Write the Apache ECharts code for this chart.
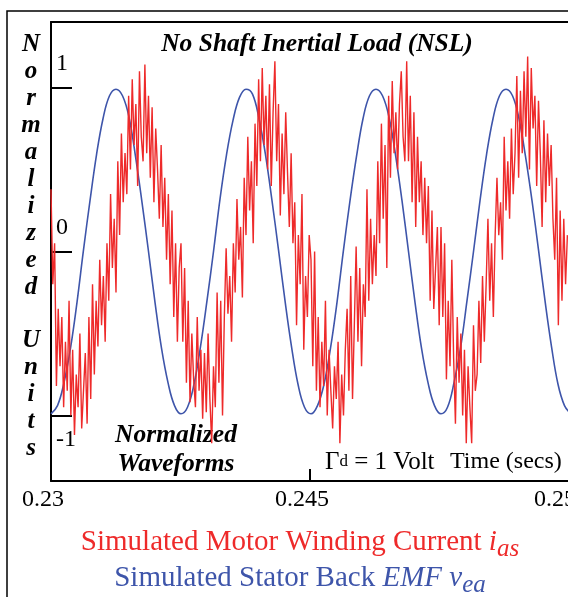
<!DOCTYPE html>
<html>
<head>
<meta charset="utf-8">
<title>Normalized Waveforms</title>
<script src="https://cdn.jsdelivr.net/npm/echarts@6.0.0/dist/echarts.min.js"></script>
<style>
  html, body { margin: 0; padding: 0; background: #fff; }
  #chart { width: 568px; height: 597px; }
</style>
</head>
<body>
<div id="chart"></div>
<script>
// axis ranges and tick labels
const timeMin = 0.23;
const timeMax = 0.26;
const timeTicks = [0.245];
const xTickLabels = ['0.23', '0.245', '0.255'];
const yTicks = [-1, 0, 1];

// stator back EMF v_ea (blue), sampled every emfStep seconds
const emfStart = 0.23;
const emfStep = 0.00037718;
const emfValues = [
  -0.99, -0.94, -0.80, -0.59, -0.31, 0.01, 0.31, 0.59, 0.81, 0.95, 0.99, 0.95, 0.82, 0.58, 0.30, 0.00, -0.31, -0.59, -0.80, -0.94,
  -0.99, -0.95, -0.81, -0.58, -0.30, 0.00, 0.32, 0.59, 0.80, 0.94, 0.99, 0.96, 0.81, 0.59, 0.31, 0.01, -0.30, -0.58, -0.81, -0.95,
  -0.99, -0.94, -0.81, -0.59, -0.31, 0.01, 0.31, 0.58, 0.81, 0.95, 0.99, 0.95, 0.82, 0.59, 0.31, 0.00, -0.31, -0.59, -0.80, -0.94,
  -0.99, -0.95, -0.80, -0.59, -0.30, 0.00, 0.31, 0.59, 0.81, 0.95, 0.99, 0.95, 0.81, 0.58, 0.31, 0.01, -0.30, -0.58, -0.81, -0.94,
  -0.99
];

// motor winding current i_as (red), sampled every currentStep seconds
const currentStart = 0.23;
const currentStep = 0.00010477;
const currentValues = [
  // cycle 1
  0.38, -0.20, 0.05, -0.82,
  -0.35, -0.70, -0.40, -0.95, -0.55, -0.85, -0.30, -1.00,
  -0.60, -1.12, -0.75, -0.95, -0.50, -1.08, -0.85, -0.62,
  -1.05, -0.40, -0.90, -0.20, -0.75,
  -0.30, -0.58, -0.05, -0.45, -0.15, -0.55,
  0.05, -0.30, 0.35, -0.10, 0.20, -0.25,
  0.55, 0.10, 0.72, 0.30, 0.60,
  0.35, 0.95, 0.50, 1.05, 0.65, 0.90,
  0.40, 1.10, 0.70, 0.55, 1.14, 0.60, 0.95, 0.45,
  0.88, 0.30, 0.75, 0.50, 0.20, 0.65, 0.15,
  0.45, -0.05, 0.35, -0.20, 0.25, -0.40, 0.05, -0.55, -0.10,
  // cycle 2
  0.05, -0.55, -0.10, -0.80,
  -0.30, -0.92, -0.50, -0.78, -0.95, -0.40, -0.85, -0.60,
  -1.02, -0.62, -0.98, -0.50, -0.90, -1.17, -0.70, -0.95,
  -0.25, -0.80, -0.30, -1.00, -0.40,
  0.02, -0.38, -0.15, -0.55, 0.05, -0.25,
  0.32, -0.05, 0.15, -0.28, 0.45, 0.10,
  0.70, 0.25, 0.55, 0.05, 0.78,
  0.40, 1.05, 0.55, 1.12, 0.65, 0.95,
  0.50, 1.02, 0.40, 0.85, 1.16, 0.55, 0.90, 0.22,
  0.72, 0.35, 0.85, 0.48, 0.15, 0.60, 0.05,
  0.30, -0.45, 0.10, -0.20, 0.35, -0.60, -0.15, -0.40, 0.10,
  // cycle 3
  -0.05, -0.70, 0.00, -0.85,
  -0.40, -0.95, -0.55, -0.82, -0.30, -1.00, -0.60, -0.85,
  -1.08, -0.70, -0.90, -0.55, -1.17, -0.75, -1.00, -0.60,
  -0.35, -0.85, -0.15, -0.90, -0.45,
  0.03, -0.55, -0.10, -0.70, -0.20, -0.40,
  0.38, -0.30, 0.20, -0.20, 0.10, -0.15,
  0.55, 0.05, 0.78, 0.20, 0.65,
  -0.10, 0.95, 0.45, 1.04, 0.60, 0.85,
  0.50, 0.90, 1.10, 0.70, 0.55, 1.16, 0.55, 0.95,
  0.30, 0.85, 0.15, 0.70, 0.30, 0.55, 0.10,
  0.45, 0.05, 0.40, -0.30, 0.25, -0.35, -0.10, 0.15, -0.45,
  // cycle 4
  0.15, -0.40, 0.05, -0.78,
  -0.30, -0.70, -0.05, -0.65, -1.05, -0.40, -0.80, -0.50,
  -1.00, -0.60, -1.17, -0.70, -0.95, -1.17, -0.45, -0.85,
  -0.75, -0.30, -0.68, -0.15, -0.55,
  -0.20, 0.20, -0.30, 0.05, -0.40, 0.10,
  0.45, 0.10, 0.30, -0.05, 0.70, 0.25,
  0.55, 0.20, 0.75, 0.35, 0.60,
  1.07, 0.45, 0.98, 0.60, 1.10, 0.70,
  1.19, 0.50, 1.12, 0.75, 0.95, 0.40, 0.92, 0.60,
  0.15, 0.80, 0.30, 0.72, 0.40, 0.65, 0.20,
  -0.05, 0.45, -0.45, 0.25, -0.30, 0.20, -0.20, 0.10
];

const red = '#ee2a2a';
const blue = '#3e55aa';
const serif = '"Liberation Serif", "DejaVu Serif", serif';

const chart = echarts.init(document.getElementById('chart'), null, { renderer: 'canvas' });

const emfData = emfValues.map((v, i) => [emfStart + i * emfStep, v]);
const currentData = currentValues.map((v, i) => [currentStart + i * currentStep, v]);

const yTitle = 'Normalized Units'.split('').map(c => (c === ' ' ? '' : c)).join('\n');

chart.setOption({
  animation: false,
  backgroundColor: '#fff',
  grid: [
    { left: 51, right: 0, top: 22, bottom: 116, outerBoundsMode: 'none' },
    { left: 43, right: 7, top: 22, bottom: 116, outerBoundsMode: 'none' }
  ],
  xAxis: [
    {
      type: 'value', gridIndex: 0, min: timeMin, max: timeMax,
      axisLine: { onZero: false, lineStyle: { color: '#000', width: 2 } },
      axisTick: { show: true, inside: true, length: 12, customValues: timeTicks, lineStyle: { color: '#000', width: 2 } },
      axisLabel: { show: false },
      splitLine: { show: false }
    },
    {
      type: 'value', gridIndex: 0, position: 'top', min: timeMin, max: timeMax,
      axisLine: { onZero: false, lineStyle: { color: '#000', width: 2 } },
      axisTick: { show: false }, axisLabel: { show: false }, splitLine: { show: false }
    },
    {
      type: 'category', gridIndex: 1, data: xTickLabels, boundaryGap: false,
      axisLine: { show: false }, axisTick: { show: false },
      axisLabel: { color: '#000', fontFamily: serif, fontSize: 24, margin: 7, interval: 0 }
    }
  ],
  yAxis: [
    {
      type: 'value', gridIndex: 0, min: -1.4, max: 1.4,
      axisLine: { show: true, lineStyle: { color: '#000', width: 2 } },
      axisTick: { show: true, inside: true, length: 21, customValues: yTicks, lineStyle: { color: '#000', width: 2 } },
      axisLabel: {
        inside: true, margin: 5, customValues: yTicks,
        color: '#000', fontFamily: serif, fontSize: 24,
        formatter: (v) => (v < 0 ? `{dn|${v}}` : `{up|${v}}`),
        rich: {
          up: { fontFamily: serif, fontSize: 24, color: '#000', padding: [0, 0, 48, 0] },
          dn: { fontFamily: serif, fontSize: 24, color: '#000', padding: [48, 0, 0, 0] }
        }
      },
      splitLine: { show: false }
    },
    { type: 'value', gridIndex: 1, show: false }
  ],
  series: [
    {
      name: 'EMF', type: 'line', xAxisIndex: 0, yAxisIndex: 0,
      data: emfData, smooth: 0.4, symbol: 'none',
      lineStyle: { color: blue, width: 1.6 }
    },
    {
      name: 'Current', type: 'line', xAxisIndex: 0, yAxisIndex: 0,
      data: currentData, symbol: 'none',
      lineStyle: { color: red, width: 1.4 }
    }
  ],
  graphic: [
    {
      type: 'polyline', silent: true,
      shape: { points: [[7, 600], [7, 11], [570, 11]] },
      style: { stroke: '#000', lineWidth: 1.5, fill: null }
    },
    {
      type: 'text', x: 31, y: 31.5,
      style: { text: yTitle, font: `italic bold 25px ${serif}`, fill: '#000', align: 'center', verticalAlign: 'top', lineHeight: 26.9 }
    },
    {
      type: 'text', x: 317, y: 44,
      style: { text: 'No Shaft Inertial Load (NSL)', font: `italic bold 25.5px ${serif}`, fill: '#000', align: 'center', verticalAlign: 'middle' }
    },
    {
      type: 'text', x: 176, y: 450,
      style: { text: 'Normalized\nWaveforms', font: `italic bold 25.5px ${serif}`, fill: '#000', align: 'center', verticalAlign: 'middle', lineHeight: 29 }
    },
    {
      type: 'text', x: 325, y: 462,
      style: {
        text: '{g|Γ}{s|d}{g| = 1 Volt}', align: 'left', verticalAlign: 'middle',
        rich: {
          g: { fontFamily: serif, fontSize: 25, fill: '#000', lineHeight: 26 },
          s: { fontFamily: serif, fontSize: 17, fill: '#000', verticalAlign: 'middle' }
        }
      }
    },
    {
      type: 'text', x: 450, y: 462,
      style: { text: 'Time (secs)', font: `24px ${serif}`, fill: '#000', align: 'left', verticalAlign: 'middle' }
    },
    {
      type: 'text', x: 300, y: 542,
      style: {
        text: '{m|Simulated Motor Winding Current }{i|i}{s|as}', align: 'center', verticalAlign: 'middle',
        rich: {
          m: { fontFamily: serif, fontSize: 29, fill: red, lineHeight: 40 },
          i: { fontFamily: serif, fontStyle: 'italic', fontSize: 29, fill: red, lineHeight: 40 },
          s: { fontFamily: serif, fontStyle: 'italic', fontSize: 25, fill: red, lineHeight: 25, verticalAlign: 'bottom' }
        }
      }
    },
    {
      type: 'text', x: 300, y: 578,
      style: {
        text: '{m|Simulated Stator Back }{i|EMF v}{s|ea}', align: 'center', verticalAlign: 'middle',
        rich: {
          m: { fontFamily: serif, fontSize: 29, fill: blue, lineHeight: 40 },
          i: { fontFamily: serif, fontStyle: 'italic', fontSize: 29, fill: blue, lineHeight: 40 },
          s: { fontFamily: serif, fontStyle: 'italic', fontSize: 25, fill: blue, lineHeight: 25, verticalAlign: 'bottom' }
        }
      }
    }
  ]
});

window.addEventListener('resize', () => chart.resize());
</script>
</body>
</html>
